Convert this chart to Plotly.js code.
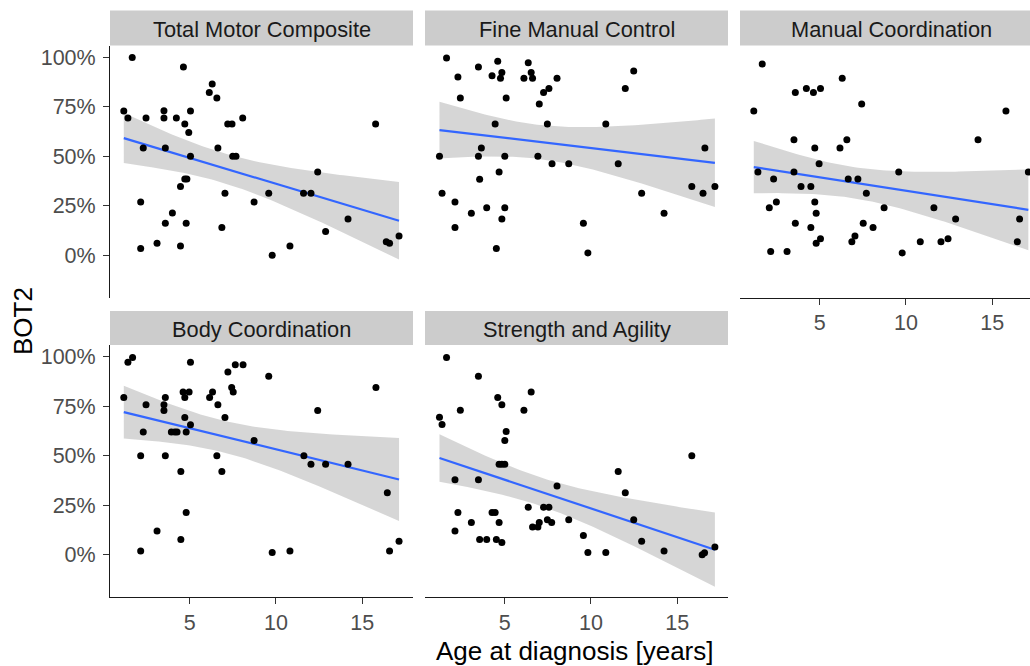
<!DOCTYPE html>
<html>
<head>
<meta charset="utf-8">
<script src="https://cdn.plot.ly/plotly-3.0.1.min.js"></script>
<style>html,body{margin:0;padding:0;background:#fff;}#chart{width:1030px;height:666px;}</style>
</head>
<body>
<div id="chart"></div>
<script>
// ---- data (age at diagnosis [years], BOT2 percentile as fraction) ----
const panelTitles = ["Total Motor Composite", "Fine Manual Control", "Manual Coordination", "Body Coordination", "Strength and Agility"];
const yTickVals = [0, 0.25, 0.5, 0.75, 1];
const yTickText = ["0%", "25%", "50%", "75%", "100%"];
const xTickVals = [5, 10, 15];
const xTickText = ["5", "10", "15"];

const ageTotal = [1.66,4.63,6.30,6.13,6.57,1.17,3.50,5.04,1.41,2.46,3.50,4.22,8.07,4.71,7.20,7.45,15.78,4.94,2.30,3.58,6.63,5.04,7.49,7.68,12.42,4.71,4.83,4.46,7.04,9.58,11.60,12.03,2.15,8.73,3.99,14.18,3.58,4.79,6.86,12.88,3.10,10.81,4.46,2.15,9.78,16.40,16.59,17.14];
const botTotal = [1.00,0.951,0.865,0.823,0.795,0.729,0.731,0.729,0.694,0.694,0.694,0.694,0.694,0.663,0.663,0.663,0.663,0.621,0.542,0.542,0.542,0.500,0.500,0.500,0.421,0.386,0.386,0.348,0.313,0.313,0.313,0.313,0.269,0.269,0.214,0.184,0.162,0.162,0.141,0.120,0.061,0.047,0.047,0.034,0.000,0.069,0.061,0.098];

const ageFine = [1.62,4.59,6.36,3.47,4.26,4.75,4.83,6.53,6.61,6.11,2.28,8.03,12.48,11.99,7.56,7.25,2.42,5.08,7.00,4.44,7.47,10.86,3.64,16.61,1.21,3.47,5.00,6.92,7.74,8.71,11.58,4.67,3.54,1.36,12.94,15.85,16.50,17.19,2.11,3.95,5.00,3.06,4.83,14.24,2.11,9.56,4.51,9.82];
const botFine = [0.997,0.981,0.973,0.951,0.907,0.894,0.924,0.924,0.894,0.894,0.901,0.894,0.931,0.843,0.843,0.822,0.795,0.795,0.764,0.663,0.663,0.663,0.542,0.542,0.500,0.500,0.500,0.500,0.463,0.463,0.463,0.421,0.384,0.313,0.313,0.348,0.313,0.348,0.269,0.241,0.241,0.212,0.184,0.212,0.140,0.162,0.034,0.012];

const ageManual = [1.66,6.30,4.22,4.63,5.04,3.58,7.43,1.17,15.80,3.50,6.57,14.18,4.71,6.17,4.96,1.41,3.50,9.58,17.10,2.32,6.65,7.21,3.91,4.48,7.70,2.48,2.07,4.71,8.73,11.62,4.79,12.88,16.59,3.58,7.52,4.48,8.09,4.79,5.04,6.86,7.04,10.83,12.03,12.44,16.46,2.15,3.10,9.78];
const botManual = [0.966,0.894,0.843,0.822,0.843,0.822,0.764,0.729,0.729,0.584,0.584,0.584,0.542,0.542,0.463,0.421,0.421,0.421,0.421,0.386,0.386,0.386,0.348,0.348,0.313,0.269,0.241,0.269,0.241,0.241,0.212,0.184,0.184,0.162,0.162,0.140,0.140,0.061,0.084,0.069,0.098,0.069,0.069,0.084,0.069,0.019,0.019,0.012];

const ageBody = [1.41,1.68,5.04,7.21,7.64,8.09,9.58,15.80,1.17,3.58,4.61,4.96,4.71,6.32,6.15,7.43,7.52,2.46,3.50,3.50,6.63,4.71,7.04,12.42,5.04,2.30,3.93,4.13,4.26,4.79,8.73,2.15,3.58,6.57,11.62,12.03,12.88,14.18,4.48,6.86,16.46,4.79,3.10,4.48,2.15,9.78,10.81,16.59,17.14];
const botBody = [0.973,0.997,0.973,0.924,0.960,0.960,0.902,0.845,0.795,0.795,0.823,0.823,0.795,0.823,0.795,0.845,0.823,0.758,0.758,0.729,0.758,0.694,0.694,0.729,0.657,0.621,0.621,0.621,0.621,0.621,0.577,0.500,0.500,0.500,0.500,0.458,0.458,0.458,0.421,0.421,0.313,0.214,0.120,0.077,0.019,0.012,0.019,0.019,0.069];

const ageStrength = [1.62,3.47,4.59,4.83,6.53,2.42,6.11,1.21,1.36,5.08,5.00,4.67,4.83,5.00,11.58,15.85,2.11,3.47,8.03,11.99,6.36,7.25,7.56,2.28,4.26,4.44,8.71,12.48,3.06,4.67,7.47,7.72,7.00,6.61,6.92,2.11,9.56,3.54,3.95,4.51,4.83,12.94,14.24,9.82,10.86,16.45,16.59,17.19];
const botStrength = [0.997,0.902,0.795,0.758,0.823,0.731,0.731,0.695,0.658,0.623,0.577,0.458,0.458,0.458,0.421,0.500,0.379,0.379,0.348,0.313,0.241,0.241,0.241,0.214,0.214,0.214,0.177,0.177,0.163,0.163,0.177,0.163,0.163,0.141,0.141,0.120,0.098,0.077,0.077,0.077,0.062,0.069,0.019,0.012,0.012,0.000,0.010,0.040];

const panelAges = [ageTotal, ageFine, ageManual, ageBody, ageStrength];
const panelBots = [botTotal, botFine, botManual, botBody, botStrength];

// ---- linear model with 95% confidence band (like geom_smooth(method = "lm")) ----
function lmBand(x, y) {
  const n = x.length;
  const mx = x.reduce((a, b) => a + b, 0) / n;
  const my = y.reduce((a, b) => a + b, 0) / n;
  let sxx = 0, sxy = 0;
  for (let i = 0; i < n; i++) { sxx += (x[i] - mx) ** 2; sxy += (x[i] - mx) * (y[i] - my); }
  const b = sxy / sxx, a = my - b * mx;
  let sse = 0;
  for (let i = 0; i < n; i++) sse += (y[i] - a - b * x[i]) ** 2;
  const df = n - 2, s = Math.sqrt(sse / df);
  const z = 1.959964;
  const t = z + (z ** 3 + z) / (4 * df) + (5 * z ** 5 + 16 * z ** 3 + 3 * z) / (96 * df * df);
  const xmin = Math.min(...x), xmax = Math.max(...x);
  const xs = [], fit = [], lo = [], hi = [];
  const m = 80;
  for (let k = 0; k < m; k++) {
    const xv = xmin + (xmax - xmin) * k / (m - 1);
    const f = a + b * xv;
    const se = s * Math.sqrt(1 / n + (xv - mx) ** 2 / sxx);
    xs.push(xv); fit.push(f); lo.push(f - t * se); hi.push(f + t * se);
  }
  return { xs, fit, lo, hi };
}

// ---- geometry (pixels in a 1030 x 666 page) ----
const W = 1030, H = 666;
const colX = [[110, 413], [425, 728], [740, 1030]];
const rowPlot = [[45.5, 297.5], [345, 597]];
const rowStrip = [[10.5, 45.5], [311, 345]];
const xRangeFull = [0.37, 17.95];
const pxPerUnit = 303 / (xRangeFull[1] - xRangeFull[0]);
const yRange = [-0.213, 1.06];
const FONT = "Liberation Sans, Arial, sans-serif";

const traces = [];
const layout = {
  width: W, height: H,
  margin: { l: 0, r: 0, t: 0, b: 0 },
  paper_bgcolor: "#ffffff", plot_bgcolor: "#ffffff",
  showlegend: false,
  font: { family: FONT },
  shapes: [], annotations: []
};

const panelPos = [[0, 0], [0, 1], [0, 2], [1, 0], [1, 1]];

panelPos.forEach((pos, i) => {
  const [r, c] = pos;
  const k = i + 1;
  const xa = "x" + (k === 1 ? "" : k), ya = "y" + (k === 1 ? "" : k);
  const xk = "xaxis" + (k === 1 ? "" : k), yk = "yaxis" + (k === 1 ? "" : k);
  const [x0, x1] = colX[c];
  const [pt, pb] = rowPlot[r];
  const xr = (c === 2) ? [xRangeFull[0], xRangeFull[0] + (x1 - x0) / pxPerUnit] : xRangeFull;
  const showX = (r === 1) || (c === 2);
  const showY = (c === 0);
  layout[xk] = {
    domain: [x0 / W, x1 / W], range: xr, anchor: ya,
    showgrid: false, zeroline: false,
    showline: showX, linecolor: "#1a1a1a", linewidth: 1,
    ticks: showX ? "outside" : "", ticklen: 6, tickcolor: "#333333", tickwidth: 1,
    showticklabels: showX, tickvals: xTickVals, ticktext: xTickText,
    tickfont: { family: FONT, size: 21.5, color: "#4D4D4D" }, ticklabelstandoff: 0
  };
  layout[yk] = {
    domain: [1 - pb / H, 1 - pt / H], range: yRange, anchor: xa,
    showgrid: false, zeroline: false,
    showline: showY, linecolor: "#1a1a1a", linewidth: 1,
    ticks: showY ? "outside" : "", ticklen: 6, tickcolor: "#333333", tickwidth: 1,
    showticklabels: showY, tickvals: yTickVals, ticktext: yTickText,
    tickfont: { family: FONT, size: 21.5, color: "#4D4D4D" }, ticklabelstandoff: 3
  };

  const fitRes = lmBand(panelAges[i], panelBots[i]);
  traces.push({
    x: fitRes.xs.concat(fitRes.xs.slice().reverse()),
    y: fitRes.hi.concat(fitRes.lo.slice().reverse()),
    xaxis: xa, yaxis: ya, type: "scatter", mode: "lines",
    fill: "toself", fillcolor: "rgba(153,153,153,0.4)", line: { width: 0, color: "rgba(0,0,0,0)" },
    hoverinfo: "skip"
  });
  traces.push({
    x: fitRes.xs, y: fitRes.fit, xaxis: xa, yaxis: ya, type: "scatter", mode: "lines",
    line: { color: "#3366FF", width: 2.2 }, hoverinfo: "skip"
  });
  traces.push({
    x: panelAges[i], y: panelBots[i], xaxis: xa, yaxis: ya, type: "scatter", mode: "markers",
    marker: { color: "#000000", size: 7 }
  });

  // strip
  const [st, sb] = rowStrip[r];
  layout.shapes.push({
    type: "rect", xref: "paper", yref: "paper",
    x0: x0 / W, x1: x1 / W, y0: 1 - sb / H, y1: 1 - st / H,
    fillcolor: "#CCCCCC", line: { width: 0 }, layer: "below"
  });
  const cx = x0 + 151.5;
  layout.annotations.push({
    xref: "paper", yref: "paper", x: cx / W, y: 1 - ((st + sb) / 2 + 1.5) / H,
    xanchor: "center", yanchor: "middle", showarrow: false,
    text: panelTitles[i], font: { family: FONT, size: 21.8, color: "#1A1A1A" }
  });
});

// axis titles
layout.annotations.push({
  xref: "paper", yref: "paper", x: 23 / W, y: 1 - 321 / H, xanchor: "center", yanchor: "middle",
  showarrow: false, textangle: -90, text: "BOT2", font: { family: FONT, size: 26, color: "#000000" }
});
layout.annotations.push({
  xref: "paper", yref: "paper", x: 575 / W, y: 1 - 651 / H, xanchor: "center", yanchor: "middle",
  showarrow: false, text: "Age at diagnosis [years]", font: { family: FONT, size: 26, color: "#000000" }
});

Plotly.newPlot("chart", traces, layout, { displayModeBar: false, staticPlot: true });
</script>
</body>
</html>
